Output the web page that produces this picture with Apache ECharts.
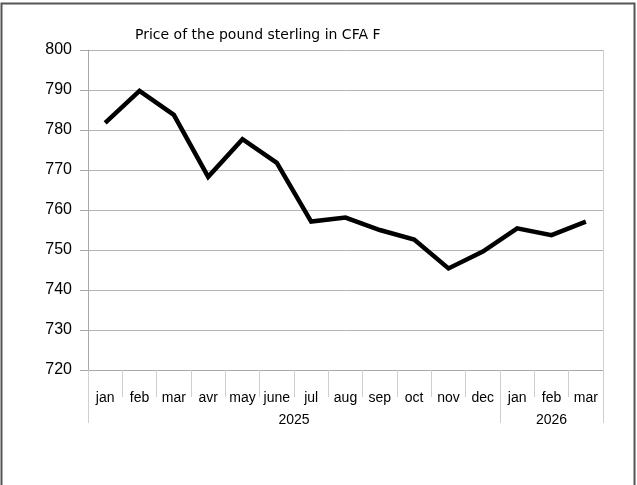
<!DOCTYPE html>
<html><head><meta charset="utf-8">
<script src="https://cdn.jsdelivr.net/npm/echarts@6/dist/echarts.min.js"></script>
<style>html,body{margin:0;padding:0;background:#fff}#c{width:637px;height:485px}</style>
</head><body><div id="c"></div>
<script>
const months = ['jan','feb','mar','avr','may','june','jul','aug','sep','oct','nov','dec','jan','feb','mar'];
const prices = [781.8, 789.8, 783.8, 768.3, 777.7, 771.8, 757.1, 758.1, 755.0, 752.6, 745.4, 749.6, 755.4, 753.7, 757.1];
const yearLabels = ['2025', '2026'];
const yearCenters = [6, 13.5];
const yearBounds = [0, 12, 15];
const yTicks = [720, 730, 740, 750, 760, 770, 780, 790, 800];

const chart = echarts.init(document.getElementById('c'), null, {renderer: 'canvas'});
const font = 'Liberation Sans, Arial, sans-serif';
chart.setOption({
  animation: false,
  backgroundColor: '#fff',
  title: {
    text: 'Price of the pound sterling in CFA F',
    left: 130, top: 23,
    textStyle: {fontFamily: 'DejaVu Sans', fontSize: 14, fontWeight: 'normal', color: '#000'}
  },
  graphic: [{
    type: 'rect', shape: {x: 1.5, y: 3.5, width: 633, height: 485},
    style: {fill: 'none', stroke: '#555', lineWidth: 2}, silent: true
  }],
  grid: {left: 88, right: 34, top: 50, bottom: 115},
  xAxis: [{
    type: 'category', data: months, boundaryGap: true, position: 'bottom',
    axisLine: {show: true, lineStyle: {color: '#a8a8a8', width: 1}},
    axisTick: {show: true, interval: 0, length: 27, lineStyle: {color: '#cfcfcf'}},
    axisLabel: {interval: 0, margin: 21, fontFamily: font, fontSize: 14, color: '#000'},
    splitLine: {show: false}
  }, {
    type: 'value', min: 0, max: 15, position: 'bottom',
    axisLine: {show: false},
    axisTick: {show: true, customValues: yearBounds, length: 53, lineStyle: {color: '#cfcfcf'}},
    axisLabel: {
      customValues: yearCenters, margin: 43, fontFamily: font, fontSize: 14, color: '#000',
      formatter: v => { const i = yearCenters.indexOf(v); return i >= 0 ? yearLabels[i] : ''; }
    },
    splitLine: {show: false}
  }],
  yAxis: [{
    type: 'value', min: yTicks[0], max: yTicks[yTicks.length - 1], interval: 10,
    axisLine: {show: true, lineStyle: {color: '#a8a8a8'}},
    axisTick: {show: true, length: 8, lineStyle: {color: '#a8a8a8'}},
    axisLabel: {margin: 16, fontFamily: font, fontSize: 16, color: '#000'},
    splitLine: {show: true, lineStyle: {color: '#b4b4b4', width: 1}}
  }, {
    type: 'value', position: 'right', min: yTicks[0], max: yTicks[yTicks.length - 1],
    axisLine: {show: true, lineStyle: {color: '#d0d0d0'}},
    axisTick: {show: false}, axisLabel: {show: false}, splitLine: {show: false}
  }],
  series: [{
    type: 'line', data: prices, xAxisIndex: 0, yAxisIndex: 0,
    symbol: 'none', lineStyle: {color: '#000', width: 4.5, join: 'miter'}
  }]
});
</script></body></html>
